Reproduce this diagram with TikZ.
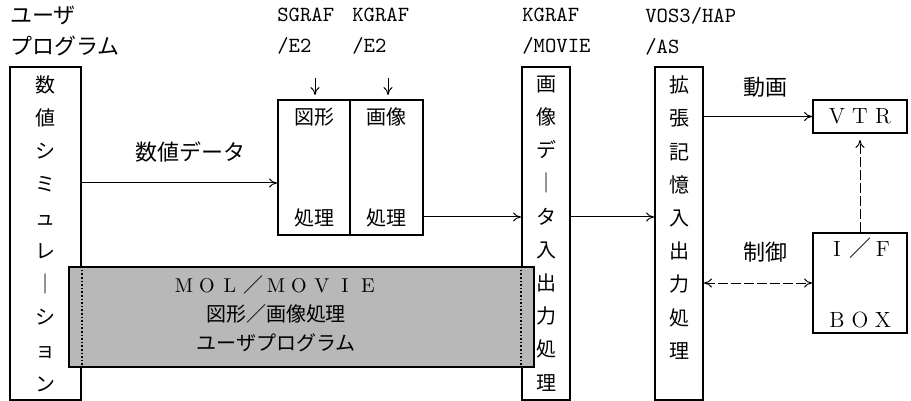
\documentclass[tikz,border=0pt]{standalone}
\usepackage{fontspec}
\newfontfamily\cjk{Noto Sans CJK JP}
\usetikzlibrary{arrows.meta,positioning,calc}
\definecolor{screengray}{gray}{0.72}

% full-width latin letters
\newcommand{\fw}[1]{\makebox[11.5pt]{#1}}

\begin{document}
\begin{tikzpicture}[
    x=0.5pt, y=-0.5pt,
    >={To[length=4pt,width=4.5pt]},
    frame/.style={draw, line width=0.9pt, inner sep=0pt},
    vtext/.style={font=\cjk\fontsize{10}{16.6}\selectfont, align=center},
    hdr/.style={font=\cjk\fontsize{11}{15.5}\selectfont, align=left, inner sep=0pt},
    ttl/.style={font=\ttfamily\fontsize{10.8}{15.5}\selectfont, align=left, inner sep=0pt},
    lbl/.style={font=\cjk\fontsize{11}{13}\selectfont, inner sep=0pt},
    arr/.style={->, line width=0.5pt},
    dasharr/.style={arr, dash pattern=on 5pt off 1.5pt}
]
\useasboundingbox (0,0) rectangle (911,401);

% ---- Headings ----
\node[hdr, anchor=west] (user) at (10, 31) {ユーザ\\プログラム};
\node[ttl, anchor=west] (sgraf) at (277, 31) {SGRAF\\/E2};
\node[ttl, anchor=west] (kgraf) at (352, 31) {KGRAF\\/E2};
\node[ttl, anchor=west] (movie) at (522, 31) {KGRAF\\/MOVIE};
\node[ttl, anchor=west] (vos) at (645, 31) {VOS3/HAP\\/AS};

% ---- Column boxes ----
\node[frame, vtext, minimum width=35.5pt, minimum height=166.5pt] (simu) at (45.5, 233.5)
    {数\\値\\シ\\ミ\\ュ\\レ\\｜\\シ\\ョ\\ン};
\node[frame, vtext, minimum width=24pt, minimum height=166.5pt] (imgio) at (546, 233.5)
    {画\\像\\デ\\｜\\タ\\入\\出\\力\\処\\理};
\node[frame, minimum width=24pt, minimum height=166.5pt] (extio) at (679, 233.5) {};
\node[vtext] (exttext) at (679, 217.5) {拡\\張\\記\\憶\\入\\出\\力\\処\\理};

% ---- Graphic / image processing ----
\node[frame, font=\cjk\fontsize{10}{50.5}\selectfont, align=center,
      minimum width=36pt, minimum height=67.5pt] (fig) at (314, 167.5) {図形\\処理};
\node[frame, font=\cjk\fontsize{10}{50.5}\selectfont, align=center,
      minimum width=36.5pt, minimum height=67.5pt] (img) at (386.5, 167.5) {画像\\処理};

% ---- Devices ----
\node[frame, font=\rmfamily\fontsize{11}{13}\selectfont,
      minimum width=47pt, minimum height=16.5pt] (vtr) at (860, 116.5) {\fw{V}\fw{T}\fw{R}};
\node[frame, font=\rmfamily\fontsize{11}{35.5}\selectfont, align=center,
      minimum width=47pt, minimum height=50pt] (ifbox) at (860, 283)
    {\fw{I}\fw{\cjk ／}\fw{F}\\\fw{B}\fw{O}\fw{X}};

% ---- MOL/MOVIE layer ----
\node[frame, fill=screengray, minimum width=232.5pt, minimum height=50pt] (mol) at (301.5, 317) {};
\draw[densely dotted, line width=0.8pt] (simu.east |- mol.north) -- (simu.east |- mol.south);
\draw[densely dotted, line width=0.8pt] (imgio.west |- mol.north) -- (imgio.west |- mol.south);
\node[font=\cjk\fontsize{10}{14.5}\selectfont, align=center] (moltext) at (276, 314)
    {\rmfamily\fw{M}\fw{O}\fw{L}\fw{\cjk ／}\fw{M}\fw{O}\fw{V}\fw{I}\fw{E}\\図形／画像処理\\ユーザプログラム};

% ---- Labels ----
\node[lbl] (numdata) at (190, 152) {数値データ};
\node[lbl] (motion) at (765, 87) {動画};
\node[lbl] (ctrl) at (765, 252) {制御};

% ---- Arrows ----
\coordinate (sgtip) at (315, 78);
\coordinate (kgtip) at (388, 78);
\draw[arr, shorten >=2pt] (sgtip) -- (sgtip |- fig.north);
\draw[arr, shorten >=2pt] (kgtip) -- (kgtip |- img.north);
\draw[arr] (simu.east |- 0,183) -- (fig.west |- 0,183);
\draw[arr] (img.east |- 0,217) -- (imgio.west |- 0,217);
\draw[arr] (imgio.east |- 0,217) -- (extio.west |- 0,217);
\draw[arr] (extio.east |- vtr.west) -- (vtr.west);
\draw[dasharr, shorten >=3pt] (ifbox.north) -- (vtr.south);
\draw[dasharr, <->] (extio.east |- ifbox.west) -- (ifbox.west);

\end{tikzpicture}
\end{document}
